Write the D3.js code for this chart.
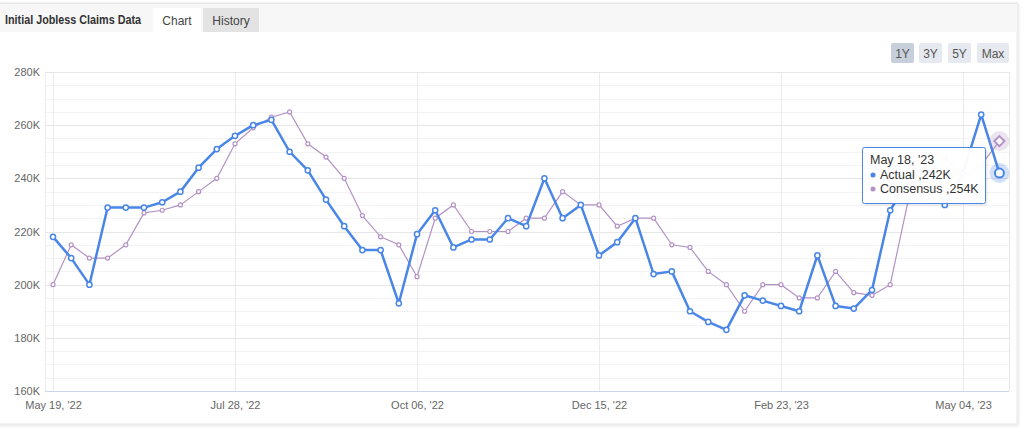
<!DOCTYPE html>
<html><head><meta charset="utf-8">
<script src="https://cdn.jsdelivr.net/npm/d3@7/dist/d3.min.js"></script>
<style>
body{margin:0;background:#fff;font-family:"Liberation Sans",Arial,sans-serif;}
svg{display:block;}
</style></head>
<body>
<svg id="c" width="1024" height="436"></svg>
<script>
const dates = ["May 19, '22","May 26, '22","Jun 02, '22","Jun 09, '22","Jun 16, '22","Jun 23, '22","Jun 30, '22","Jul 07, '22","Jul 14, '22","Jul 21, '22","Jul 28, '22","Aug 04, '22","Aug 11, '22","Aug 18, '22","Aug 25, '22","Sep 01, '22","Sep 08, '22","Sep 15, '22","Sep 22, '22","Sep 29, '22","Oct 06, '22","Oct 13, '22","Oct 20, '22","Oct 27, '22","Nov 03, '22","Nov 10, '22","Nov 17, '22","Nov 24, '22","Dec 01, '22","Dec 08, '22","Dec 15, '22","Dec 22, '22","Dec 29, '22","Jan 05, '23","Jan 12, '23","Jan 19, '23","Jan 26, '23","Feb 02, '23","Feb 09, '23","Feb 16, '23","Feb 23, '23","Mar 02, '23","Mar 09, '23","Mar 16, '23","Mar 23, '23","Mar 30, '23","Apr 06, '23","Apr 13, '23","Apr 20, '23","Apr 27, '23","May 04, '23","May 11, '23","May 18, '23"];
const actual = [218,210,200,229,229,229,231,235,244,251,256,260,262,250,243,232,222,213,213,193,219,228,214,217,217,225,222,240,225,230,211,216,225,204,205,190,186,183,196,194,192,190,211,192,191,198,228,239,245,230,242,264,242];
const consensus = [200,215,210,210,215,227,228,230,235,240,253,259,263,265,253,248,240,226,218,215,203,225,230,220,220,220,225,225,235,230,230,222,225,225,215,214,205,200,190,200,200,195,195,205,197,196,200,232,240,248,240,245,254];
const xTickLabels = ["May 19, '22","Jul 28, '22","Oct 06, '22","Dec 15, '22","Feb 23, '23","May 04, '23"];
const yTicks = [160,180,200,220,240,260,280];
const ranges = ["1Y","3Y","5Y","Max"];

const svg = d3.select("#c");
const BLUE = "#4a86e8", PURPLE = "#b392c6";

// panel
const defs = svg.append("defs");
const f = defs.append("filter").attr("id","sh").attr("x","-5%").attr("y","-5%").attr("width","110%").attr("height","115%");
f.append("feDropShadow").attr("dx",1).attr("dy",1).attr("stdDeviation",1.5).attr("flood-color","#000").attr("flood-opacity",0.12);
svg.append("rect").attr("x",-2).attr("y",3).attr("width",1019).attr("height",421).attr("fill","#fff").attr("stroke","#e8e8e8").attr("filter","url(#sh)");
// header
svg.append("rect").attr("x",0).attr("y",3).attr("width",1017).attr("height",29).attr("fill","#f7f7f7");
svg.append("line").attr("x1",0).attr("x2",1017).attr("y1",3.5).attr("y2",3.5).attr("stroke","#e6e6e6");
svg.append("text").attr("x",5).attr("y",24).attr("font-size",12.5).attr("font-weight","bold").attr("fill","#333")
  .attr("textLength",136).attr("lengthAdjust","spacingAndGlyphs").text("Initial Jobless Claims Data");
svg.append("rect").attr("x",153).attr("y",8).attr("width",48).attr("height",25).attr("fill","#fff");
svg.append("text").attr("x",177).attr("y",25).attr("text-anchor","middle").attr("font-size",12).attr("fill","#444").text("Chart");
svg.append("rect").attr("x",203).attr("y",8).attr("width",56).attr("height",24).attr("fill","#e3e3e3");
svg.append("text").attr("x",231).attr("y",25).attr("text-anchor","middle").attr("font-size",12).attr("fill","#444").text("History");

// range buttons
const bx = [891,919,948,977], bw = [23,23,23,32];
ranges.forEach((r,i)=>{
  svg.append("rect").attr("x",bx[i]).attr("y",43).attr("width",bw[i]).attr("height",20).attr("rx",2)
    .attr("fill", i===0 ? "#c8cfdc" : "#e6e9ef");
  svg.append("text").attr("x",bx[i]+bw[i]/2).attr("y",57.5).attr("text-anchor","middle").attr("font-size",12)
    .attr("fill","#555").text(r);
});

// scales
const L = 45, R = 1009, T = 72, B = 391;
const x = d3.scaleLinear().domain([0, dates.length-1]).range([53, 999.4]);
const y = d3.scaleLinear().domain([160,280]).range([B, T]);

const g = svg.append("g");
g.selectAll(".mn").data(d3.range(160,281,5)).join("line")
  .attr("x1",L).attr("x2",R).attr("y1",d=>Math.round(y(d))+0.5).attr("y2",d=>Math.round(y(d))+0.5)
  .attr("stroke","#f3f3f3");
g.selectAll(".mj").data(yTicks).join("line")
  .attr("x1",L).attr("x2",R).attr("y1",d=>Math.round(y(d))+0.5).attr("y2",d=>Math.round(y(d))+0.5)
  .attr("stroke","#e6e6e6");
const xTickIdx = xTickLabels.map(l=>dates.indexOf(l));
g.selectAll(".vg").data(xTickIdx).join("line")
  .attr("x1",d=>Math.round(x(d))+0.5).attr("x2",d=>Math.round(x(d))+0.5).attr("y1",T).attr("y2",B)
  .attr("stroke","#ebebeb");
g.append("line").attr("x1",L+0.5).attr("x2",L+0.5).attr("y1",T).attr("y2",B).attr("stroke","#ececec");
g.append("line").attr("x1",R+0.5).attr("x2",R+0.5).attr("y1",T).attr("y2",B).attr("stroke","#e6e6e6");
g.append("line").attr("x1",L).attr("x2",R).attr("y1",T+0.5).attr("y2",T+0.5).attr("stroke","#e6e6e6");

// axes
const yAxis = d3.axisLeft(y).tickValues(yTicks).tickFormat(d=>d+"K").tickSize(0).tickPadding(5);
const ya = svg.append("g").attr("transform",`translate(${L},0)`).call(yAxis);
ya.select(".domain").remove();
ya.selectAll("text").attr("font-size",11).attr("fill","#666").attr("font-family","'Liberation Sans Narrow','Liberation Sans',Arial,sans-serif");

const xAxis = d3.axisBottom(x).tickValues(xTickIdx).tickFormat(i=>dates[i]).tickSize(0).tickPadding(10);
const xa = svg.append("g").attr("transform",`translate(0,${B})`).call(xAxis);
xa.select(".domain").attr("stroke","#ccd6eb").attr("d",`M${L},0.5H${R}`);
xa.selectAll("text").attr("font-size",11).attr("fill","#666").attr("font-family","'Liberation Sans Narrow','Liberation Sans',Arial,sans-serif");

// lines
const line = d3.line().x((d,i)=>x(i)).y(d=>y(d));
svg.append("path").datum(consensus).attr("d",line).attr("fill","none").attr("stroke",PURPLE).attr("stroke-width",1.2);
svg.selectAll(".cm").data(consensus.slice(0,-1)).join("circle")
  .attr("cx",(d,i)=>x(i)).attr("cy",d=>y(d)).attr("r",2).attr("fill","#fff").attr("stroke",PURPLE).attr("stroke-width",1.2);

svg.append("path").datum(actual).attr("d",line).attr("fill","none").attr("stroke",BLUE).attr("stroke-width",2.5).attr("stroke-linejoin","round");
svg.selectAll(".am").data(actual.slice(0,-1)).join("circle")
  .attr("cx",(d,i)=>x(i)).attr("cy",d=>y(d)).attr("r",2.6).attr("fill","#fff").attr("stroke",BLUE).attr("stroke-width",1.5);

// hover state at last point
const li = dates.length-1;
svg.append("circle").attr("cx",x(li)).attr("cy",y(consensus[li])).attr("r",10).attr("fill",PURPLE).attr("opacity",0.25);
svg.append("path").attr("transform",`translate(${x(li)},${y(consensus[li])})`).attr("d","M0,-5L5,0L0,5L-5,0Z")
  .attr("fill","#fff").attr("stroke",PURPLE).attr("stroke-width",2);
svg.append("circle").attr("cx",x(li)).attr("cy",y(actual[li])).attr("r",10).attr("fill",BLUE).attr("opacity",0.25);
svg.append("circle").attr("cx",x(li)).attr("cy",y(actual[li])).attr("r",4.5).attr("fill","#fff").attr("stroke",BLUE).attr("stroke-width",2);

// tooltip
const tt = svg.append("g").attr("transform","translate(862,147)");
tt.append("rect").attr("x",0.5).attr("y",0.5).attr("width",123).attr("height",56).attr("rx",2)
  .attr("fill","rgba(255,255,255,0.96)").attr("stroke",BLUE).attr("stroke-width",1).attr("filter","url(#sh)");
tt.append("text").attr("x",8).attr("y",17).attr("font-size",12.5).attr("fill","#333").text(dates[li]);
tt.append("circle").attr("cx",11).attr("cy",28).attr("r",2.5).attr("fill",BLUE);
tt.append("text").attr("x",18).attr("y",32).attr("font-size",12.5).attr("fill","#333").text("Actual ,"+actual[li]+"K");
tt.append("circle").attr("cx",11).attr("cy",42).attr("r",2.5).attr("fill",PURPLE);
tt.append("text").attr("x",18).attr("y",46).attr("font-size",12.5).attr("fill","#333").text("Consensus ,"+consensus[li]+"K");
</script>
</body></html>
